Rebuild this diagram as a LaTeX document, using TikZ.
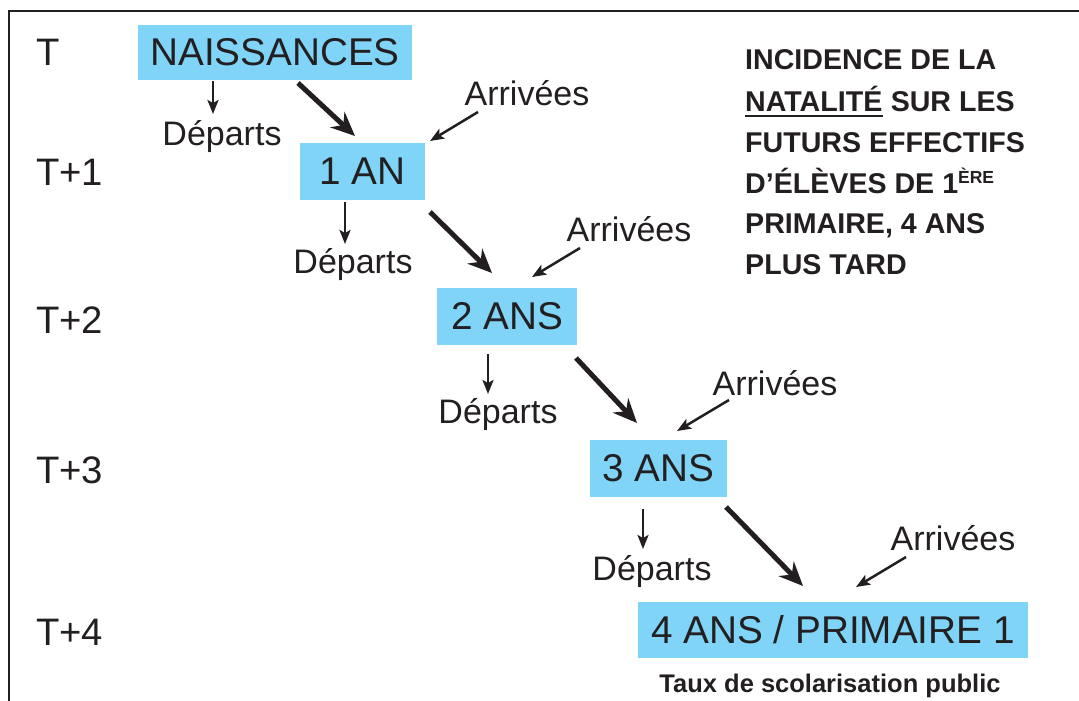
\documentclass[tikz,border=0pt]{standalone}
\usepackage{fontspec}
\setmainfont{Liberation Sans}
\usetikzlibrary{arrows.meta}
\definecolor{boxblue}{HTML}{7FD4F7}
\definecolor{ink}{HTML}{231F20}
\begin{document}
\begin{tikzpicture}[x=1pt,y=-1pt,
  every node/.style={text=ink},
  boxnode/.style={fill=boxblue, inner sep=0pt, font=\fontsize{38.7}{38.7}\selectfont},
  tlabel/.style={anchor=west, inner sep=0pt, font=\fontsize{38.3}{38.3}\selectfont},
  lab/.style={inner sep=0pt, font=\fontsize{34}{34}\selectfont},
  titleline/.style={anchor=base west, inner sep=0pt, font=\fontsize{28.6}{28.6}\selectfont\bfseries},
  thinarrow/.style={draw=ink, line width=2.5pt, -{Stealth[length=14pt,width=11pt,inset=3pt]}},
  bigarrow/.style={draw=ink, line width=5pt, -{Stealth[length=24pt,width=21pt,inset=8pt]}}]
\useasboundingbox (0,0) rectangle (1079,701);
% frame
\draw[ink, line width=2pt] (9,701) -- (9,11) -- (1079,11);
% time labels
\node[tlabel] (lT)  at (36,52)  {T};
\node[tlabel] (lT1) at (36,172) {T+1};
\node[tlabel] (lT2) at (36,320) {T+2};
\node[tlabel] (lT3) at (36,470) {T+3};
\node[tlabel] (lT4) at (36,632) {T+4};
% boxes
\node[boxnode, minimum width=274pt, minimum height=55pt] (b0) at (275,52.5) {NAISSANCES};
\node[boxnode, minimum width=125pt, minimum height=57pt] (b1) at (362.5,171.5) {1 AN};
\node[boxnode, minimum width=140pt, minimum height=57pt] (b2) at (507,316.5) {2 ANS};
\node[boxnode, minimum width=137pt, minimum height=57pt] (b3) at (658.5,468.5) {3 ANS};
\node[boxnode, minimum width=390pt, minimum height=56pt] (b4) at (833,630) {4 ANS / PRIMAIRE 1};
\node[inner sep=0pt, font=\fontsize{25.5}{25.5}\selectfont\bfseries] (taux) at (830,686) {Taux de scolarisation public};
% departures
\node[lab] (d0) at (222,137) {Départs};
\node[lab] (d1) at (353,265) {Départs};
\node[lab] (d2) at (498,415) {Départs};
\node[lab] (d3) at (652,572) {Départs};
% arrivals
\node[lab] (a1) at (527,93) {Arrivées};
\node[lab] (a2) at (629,229) {Arrivées};
\node[lab] (a3) at (775,383) {Arrivées};
\node[lab] (a4) at (953,538) {Arrivées};
% arrow end coordinates
\coordinate (d0s) at (213,81);  \coordinate (d0e) at (213,114);
\coordinate (d1s) at (345,202); \coordinate (d1e) at (345,244);
\coordinate (d2s) at (488,354); \coordinate (d2e) at (488,394);
\coordinate (d3s) at (643,509); \coordinate (d3e) at (643,549);
\coordinate (a1s) at (478,112); \coordinate (a1e) at (430,141);
\coordinate (a2s) at (580,248); \coordinate (a2e) at (532,277);
\coordinate (a3s) at (729,400); \coordinate (a3e) at (677,431);
\coordinate (a4s) at (906,557); \coordinate (a4e) at (856,587);
\coordinate (g0s) at (298,83);  \coordinate (g0e) at (355,136);
\coordinate (g1s) at (430,212); \coordinate (g1e) at (492,273);
\coordinate (g2s) at (576,358); \coordinate (g2e) at (637,423);
\coordinate (g3s) at (726,507); \coordinate (g3e) at (803,586);
\draw[thinarrow] (d0s) -- (d0e);
\draw[thinarrow] (d1s) -- (d1e);
\draw[thinarrow] (d2s) -- (d2e);
\draw[thinarrow] (d3s) -- (d3e);
\draw[thinarrow] (a1s) -- (a1e);
\draw[thinarrow] (a2s) -- (a2e);
\draw[thinarrow] (a3s) -- (a3e);
\draw[thinarrow] (a4s) -- (a4e);
\draw[bigarrow] (g0s) -- (g0e);
\draw[bigarrow] (g1s) -- (g1e);
\draw[bigarrow] (g2s) -- (g2e);
\draw[bigarrow] (g3s) -- (g3e);
% title
\node[titleline] (t1) at (745,70) {INCIDENCE DE LA};
\node[titleline] (t2a) at (745,111) {NATALITÉ};
\node[titleline, anchor=base west] (t2b) at ([xshift=8pt]t2a.base east) {SUR LES};
\draw[ink, line width=2.5pt] ([yshift=-5pt]t2a.base west) -- ([yshift=-5pt]t2a.base east);
\node[titleline] (t3) at (745,152) {FUTURS EFFECTIFS};
\node[titleline] (t4) at (745,193) {D’ÉLÈVES DE 1\raisebox{9.5pt}{\fontsize{17.5}{17.5}\selectfont ÈRE}};
\node[titleline] (t5) at (745,233) {PRIMAIRE, 4 ANS};
\node[titleline] (t6) at (745,274) {PLUS TARD};
\end{tikzpicture}
\end{document}
